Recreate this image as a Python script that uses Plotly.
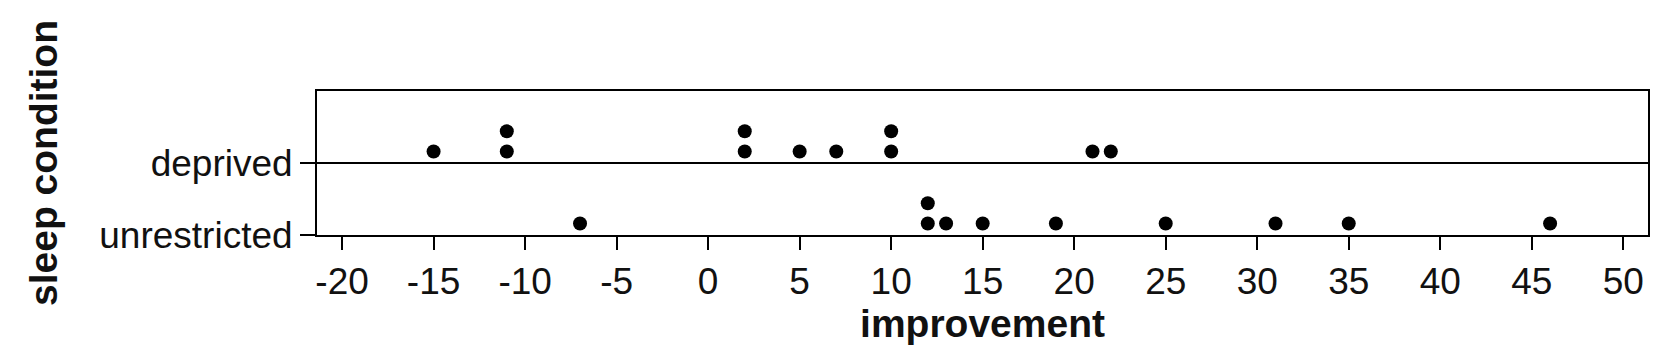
import plotly.graph_objects as go
from collections import Counter

# Data read from the dotplot (improvement values, binned as shown)
deprived = [-15, -11, -11, 2, 2, 5, 7, 10, 10, 21, 22]
unrestricted = [-7, 12, 12, 13, 15, 19, 25, 31, 35, 46]
categories = ["unrestricted", "deprived"]
x_ticks = list(range(-20, 55, 5))

FONT = "Liberation Sans"

def stacked(values, base):
    seen = Counter()
    xs, ys = [], []
    for v in values:
        k = seen[v]
        seen[v] += 1
        xs.append(v)
        ys.append(base + 0.16 + 0.28 * k)
    return xs, ys

fig = go.Figure()
for idx, vals in enumerate([unrestricted, deprived]):
    xs, ys = stacked(vals, idx)
    fig.add_trace(go.Scatter(
        x=xs, y=ys, mode="markers",
        marker=dict(size=14, color="black", line=dict(width=0)),
        showlegend=False, hoverinfo="x",
    ))

fig.update_layout(
    width=1664, height=352,
    margin=dict(l=317, r=16, t=91, b=117),
    paper_bgcolor="white", plot_bgcolor="white",
    font=dict(family=FONT, color="#111111", size=37),
)
fig.update_xaxes(
    range=[-21.37, 51.35],
    tickvals=x_ticks, ticktext=[str(t) for t in x_ticks],
    ticks="outside", ticklen=13, tickwidth=2, tickcolor="black",
    showline=True, linecolor="black", linewidth=2, mirror=True,
    showgrid=False, zeroline=False,
    tickfont=dict(family=FONT, size=37, color="#111111"),
    title=dict(text="<b>improvement</b>", font=dict(family=FONT, size=39, color="#111111"), standoff=6),
)
fig.update_yaxes(
    range=[0, 2],
    tickvals=[0, 1], ticktext=categories,
    ticks="outside", ticklen=15, tickwidth=2, tickcolor="black",
    showline=True, linecolor="black", linewidth=2, mirror=True,
    showgrid=True, gridcolor="black", gridwidth=2, zeroline=False,
    tickfont=dict(family=FONT, size=37, color="#111111"),
    title=dict(text="<b>sleep condition</b>", font=dict(family=FONT, size=39, color="#111111"), standoff=30),
)

fig.write_html("out.html")
